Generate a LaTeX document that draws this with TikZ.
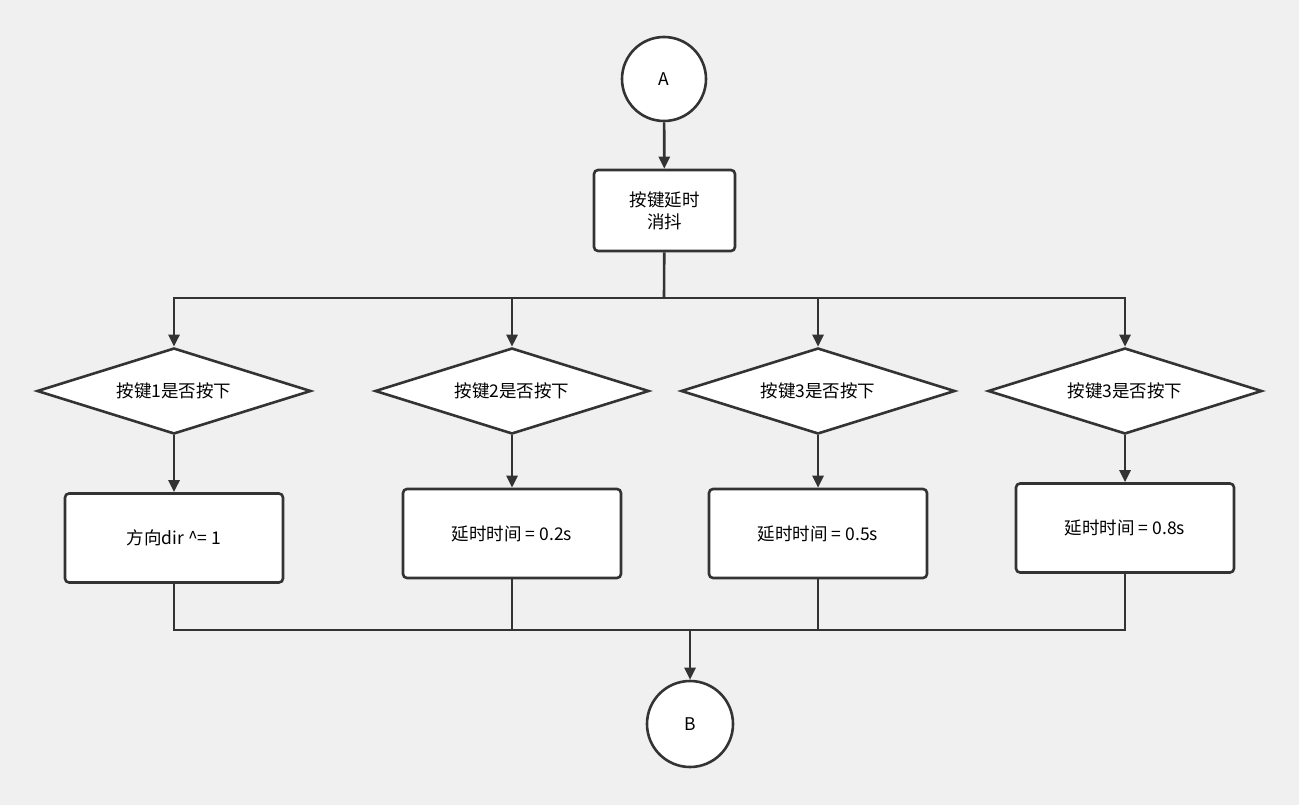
\documentclass[tikz,border=0pt]{standalone}
\usepackage{fontspec}
\setmainfont{Noto Sans CJK SC}
\usetikzlibrary{shapes.geometric,arrows.meta}
\begin{document}
\begin{tikzpicture}[x=1pt,y=-1pt,
  ln/.style={draw=black!80,line width=2.6pt},
  ar/.style={ln,-{Triangle[length=12pt,width=11pt]}},
  box/.style={ln,fill=white,rounded corners=4pt,minimum width=218pt,minimum height=89pt,font=\fontsize{17.5}{22}\selectfont,align=center},
  dia/.style={ln,fill=white,diamond,aspect=3.18,minimum width=274pt,minimum height=86pt,inner sep=0pt,font=\fontsize{17.5}{22}\selectfont},
  circ/.style={ln,fill=white,circle,minimum size=84pt,inner sep=0pt,font=\fontsize{17.5}{22}\selectfont}]
\fill[white!94!black] (0,0) rectangle (1299,805);
\useasboundingbox (0,0) rectangle (1299,805);
\node[circ] (A) at (664,79) {A};
\node[box,minimum width=141pt,minimum height=81pt] (d) at (664.5,210.5) {按键延时\\消抖};
\node[dia] (q1) at (174,391) {按键1是否按下};
\node[dia] (q2) at (512,391) {按键2是否按下};
\node[dia] (q3) at (818,391) {按键3是否按下};
\node[dia] (q4) at (1125,391) {按键3是否按下};
\node[box] (b1) at (174,538) {方向dir \^{}= 1};
\node[box] (b2) at (512,533.5) {延时时间 = 0.2s};
\node[box] (b3) at (818,533.5) {延时时间 = 0.5s};
\node[box] (b4) at (1125,528) {延时时间 = 0.8s};
\node[circ,minimum size=86pt] (B) at (690,724) {B};
\coordinate (s) at (664,298);
\coordinate (m) at (690,630);
\draw[ar] (A) -- (d);
\draw[ln] (d) -- (s);
\foreach \i in {1,2,3,4}{
  \draw[ar] (s) -| (q\i.north);
  \draw[ar] (q\i) -- (b\i);
  \draw[ln] (b\i.south) |- (m);
}
\draw[ar] (m) -- (B);
\end{tikzpicture}
\end{document}
